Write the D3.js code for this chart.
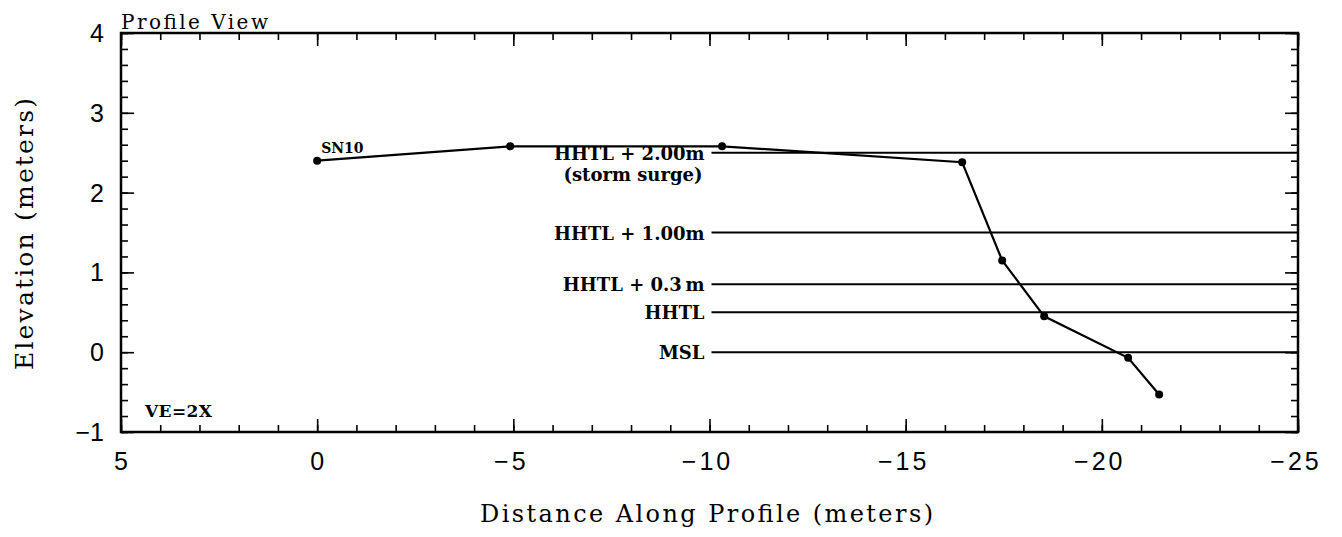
<!DOCTYPE html>
<html><head><meta charset="utf-8">
<script src="https://cdn.jsdelivr.net/npm/d3@7"></script>
<style>body{margin:0;background:#fff}svg{display:block}</style>
</head><body>
<svg id="c" width="1342" height="537"></svg>
<script>
const distance = [0, -4.92, -10.32, -16.44, -17.46, -18.53, -20.67, -21.46];
const elevation = [2.40, 2.58, 2.58, 2.38, 1.15, 0.45, -0.07, -0.53];
const refLevels = [2.5, 1.5, 0.85, 0.5, 0.0];
const refLabels = ["HHTL + 2.00m", "HHTL + 1.00m", "HHTL + 0.3\u2009m", "HHTL", "MSL"];
const xTicks = [5, 0, -5, -10, -15, -20, -25];
const yTicks = [-1, 0, 1, 2, 3, 4];
const refStart = -10;

const svg = d3.select("#c");
const L = 121, R = 1298, T = 33, B = 432;
const x = d3.scaleLinear().domain([5, -25]).range([L, R]);
const y = d3.scaleLinear().domain([-1, 4]).range([B, T]);
const serif = "'DejaVu Serif', serif";
const sans = "'Liberation Sans', Arial, sans-serif";

const xMinor = d3.range(5, -25.01, -1);
const yMinor = d3.range(-1, 4.01, 0.2).map(v => +v.toFixed(2));

function styleAxis(g){ g.select(".domain").remove(); g.selectAll("line").attr("stroke","#000").attr("stroke-width",1.6); g.selectAll("text").remove(); }
svg.append("g").attr("transform",`translate(0,${B})`).call(d3.axisBottom(x).tickValues(xMinor).tickSize(-7)).call(styleAxis);
svg.append("g").attr("transform",`translate(0,${B})`).call(d3.axisBottom(x).tickValues(xTicks).tickSize(-13)).call(styleAxis);
svg.append("g").attr("transform",`translate(0,${T})`).call(d3.axisTop(x).tickValues(xMinor).tickSize(-7)).call(styleAxis);
svg.append("g").attr("transform",`translate(0,${T})`).call(d3.axisTop(x).tickValues(xTicks).tickSize(-13)).call(styleAxis);
svg.append("g").attr("transform",`translate(${L},0)`).call(d3.axisLeft(y).tickValues(yMinor).tickSize(-7)).call(styleAxis);
svg.append("g").attr("transform",`translate(${L},0)`).call(d3.axisLeft(y).tickValues(yTicks).tickSize(-13)).call(styleAxis);
svg.append("g").attr("transform",`translate(${R},0)`).call(d3.axisRight(y).tickValues(yMinor).tickSize(-7)).call(styleAxis);
svg.append("g").attr("transform",`translate(${R},0)`).call(d3.axisRight(y).tickValues(yTicks).tickSize(-13)).call(styleAxis);

svg.append("rect").attr("x",L).attr("y",T).attr("width",R-L).attr("height",B-T)
  .attr("fill","none").attr("stroke","#000").attr("stroke-width",2.5);

const fmt = v => v < 0 ? "\u2212" + Math.abs(v) : String(v);
svg.append("g").selectAll("text").data(xTicks).join("text")
  .attr("x", d => x(d) + (d < 0 ? -2 : 0)).attr("y", 470).attr("text-anchor","middle")
  .attr("font-family", sans).attr("font-size", 25).attr("letter-spacing", d => d < 0 ? 3 : 0).text(fmt);
svg.append("g").selectAll("text").data(yTicks).join("text")
  .attr("x", 104).attr("y", d => y(d) + 9).attr("text-anchor","end")
  .attr("font-family", sans).attr("font-size", 25).text(fmt);

// reference lines
svg.append("g").selectAll("line").data(refLevels).join("line")
  .attr("x1", x(refStart) + 2).attr("x2", R).attr("y1", d => y(d)).attr("y2", d => y(d))
  .attr("stroke","#000").attr("stroke-width",2);
svg.append("g").selectAll("text").data(refLevels).join("text")
  .attr("x", x(refStart) - 5).attr("y", d => y(d) + 7).attr("text-anchor","end")
  .attr("font-family", serif).attr("font-size", 18).attr("font-weight","bold")
  .text((d,i) => refLabels[i]);
svg.append("text").attr("x", x(refStart) - 7).attr("y", y(refLevels[0]) + 28).attr("text-anchor","end")
  .attr("font-family", serif).attr("font-size", 18).attr("font-weight","bold").text("(storm surge)");

// profile
const pts = distance.map((d,i) => [d, elevation[i]]);
svg.append("path").datum(pts).attr("fill","none").attr("stroke","#000").attr("stroke-width",2.2)
  .attr("d", d3.line().x(d => x(d[0])).y(d => y(d[1])));
svg.append("g").selectAll("circle").data(pts).join("circle")
  .attr("cx", d => x(d[0])).attr("cy", d => y(d[1])).attr("r", 4).attr("fill","#000");

svg.append("text").attr("x", x(0) + 4).attr("y", y(elevation[0]) - 8)
  .attr("font-family", serif).attr("font-size", 14).attr("font-weight","bold").text("SN10");
svg.append("text").attr("x", 145).attr("y", 417)
  .attr("font-family", serif).attr("font-size", 17).attr("font-weight","bold")
  .attr("textLength", 67).attr("lengthAdjust","spacing").text("VE=2X");

svg.append("text").attr("x", L).attr("y", 29)
  .attr("font-family", serif).attr("font-size", 20)
  .attr("textLength", 147).attr("lengthAdjust","spacing").text("Profile View");
svg.append("text").attr("x", 480).attr("y", 522)
  .attr("font-family", serif).attr("font-size", 24)
  .attr("textLength", 453).attr("lengthAdjust","spacing").text("Distance Along Profile (meters)");
svg.append("text").attr("transform","translate(33,370) rotate(-90)")
  .attr("font-family", serif).attr("font-size", 25)
  .attr("textLength", 272).attr("lengthAdjust","spacing").text("Elevation (meters)");
</script>
</body></html>
